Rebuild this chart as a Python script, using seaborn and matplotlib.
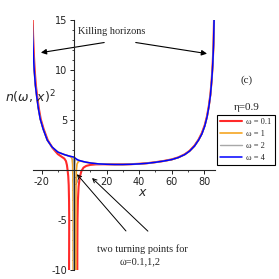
import matplotlib.pyplot as plt
import seaborn as sns

# shared left flank (x < -10) and right tail (x >= 20)
x_left = [-25.9, -25.5, -25.0, -24.5, -23.8, -23.0, -22.0, -20.8, -19.0, -16.5, -13.5]
y_left = [16.0, 13.5, 11.5, 10.0, 8.5, 7.4, 6.2, 5.1, 4.1, 3.0, 2.3]
x_tail = [20, 25, 30, 35, 40, 45, 50, 55, 60, 64, 68, 71, 74, 76.5, 78.5, 80.3,
          81.7, 82.8, 83.8, 84.6, 85.2, 85.7, 86.1]
y_tail = [0.58, 0.56, 0.56, 0.58, 0.62, 0.68, 0.78, 0.9, 1.05, 1.25, 1.55, 1.9,
          2.4, 3.0, 3.6, 4.4, 5.3, 6.3, 7.5, 9.0, 10.5, 12.5, 15.5]

# omega = 0.1 (red)
x_w01 = [-25.6, -25.2, -24.7, -24.2, -23.5, -22.7, -21.7, -20.5, -18.7, -16.2,
         -13.2, -10.0, -7.8, -6.0, -5.0, -4.4, -4.0, -3.6, -3.3, -3.1, -3.0,
         -3.05, -3.15, 1.95, 2.0, 2.1, 2.35, 2.8, 3.5, 4.5, 5.8, 7.5, 10.0,
         13.5, 18.0, 25, 30, 35, 40, 45, 50, 55, 60, 64, 68, 71, 74, 76.5,
         78.5, 80.3, 81.7, 82.8, 83.8, 84.6, 85.2, 85.7, 86.1]
y_w01 = [16.0, 13.5, 11.5, 10.0, 8.5, 7.4, 6.2, 5.1, 4.1, 3.0, 2.2, 1.6, 1.35,
         1.15, 0.9, 0.5, 0.0, -0.6, -1.5, -3.0, -5.0, -8.0, -12.0, -12.0, -8.0,
         -5.0, -3.0, -1.6, -0.7, -0.1, 0.25, 0.42, 0.52, 0.57, 0.58, 0.57, 0.57,
         0.59, 0.63, 0.69, 0.79, 0.91, 1.07, 1.27, 1.58, 1.93, 2.45, 3.05, 3.7,
         4.5, 5.4, 6.4, 7.6, 9.1, 10.7, 12.7, 15.7]

# omega = 1 (orange)
x_w1 = x_left + [-10.0, -6.0, -3.0, -1.8, -1.2, -0.9, -0.7, -0.6, -0.55, 1.05,
                 1.1, 1.2, 1.4, 1.8, 2.6, 4.0, 6.5, 10.5, 15.0] + x_tail
y_w1 = y_left + [1.8, 1.55, 1.4, 1.3, 1.1, 0.6, -0.8, -4.0, -12.0, -12.0, -4.0,
                 -1.2, 0.0, 0.6, 0.85, 0.9, 0.8, 0.7, 0.62] + y_tail

# omega = 2 (gray)
x_w2 = x_left + [-10.0, -6.0, -3.0, -1.0, -0.4, -0.15, -0.1, 0.25, 0.3, 0.6,
                 1.2, 2.5, 4.5, 7.0, 10.5, 15.0] + x_tail
y_w2 = y_left + [1.8, 1.55, 1.4, 1.33, 1.2, 0.2, -12.0, -12.0, 0.0, 0.9, 1.05,
                 0.98, 0.9, 0.8, 0.7, 0.62] + y_tail

# omega = 4 (blue)
x_w4 = x_left + [-10.0, -6.0, -3.0, -1.0, 0.0, 1.0, 2.5, 4.5, 7.0, 10.5, 15.0] + x_tail
y_w4 = y_left + [1.8, 1.55, 1.4, 1.33, 1.3, 1.15, 1.0, 0.9, 0.8, 0.7, 0.62] + y_tail

labels = ['ω = 0.1', 'ω = 1', 'ω = 2', 'ω = 4']

sns.set_style('ticks')
plt.rcParams['font.family'] = ['DejaVu Sans']
plt.rcParams['axes.unicode_minus'] = False
plt.rcParams['mathtext.fontset'] = 'dejavusans'

fig = plt.figure(figsize=(2.79, 2.79), dpi=100)
ax = fig.add_axes([0.118, 0.032, 0.652, 0.896])

curves = [(x_w01, y_w01, '#ff2a2a', 1.5),
          (x_w1, y_w1, '#f5a623', 1.2),
          (x_w2, y_w2, '#a8a8a8', 1.0),
          (x_w4, y_w4, '#0000ff', 1.1)]
for (xs, ys, col, lw), lab in zip(curves, labels):
    sns.lineplot(x=xs, y=ys, ax=ax, color=col, lw=lw, label=lab,
                 sort=False, estimator=None)

ax.set_xlim(-25.3, 86.5)
ax.set_ylim(-10, 15)
ax.spines['left'].set_position(('data', 0))
ax.spines['bottom'].set_position(('data', 0))
ax.spines['top'].set_visible(False)
ax.spines['right'].set_visible(False)
for s in ['left', 'bottom']:
    ax.spines[s].set_linewidth(0.8)
    ax.spines[s].set_zorder(3)

ax.set_xticks([-20, 0, 20, 40, 60, 80])
ax.set_xticks([-10, 10, 30, 50, 70], minor=True)
ax.set_yticks([-10, -5, 5, 10, 15])
ax.set_yticks([v for v in range(-10, 16) if v % 5 != 0], minor=True)
ax.tick_params(which='major', labelsize=7, length=3, width=0.7, pad=2, colors='#222222')
ax.tick_params(which='minor', length=1.5, width=0.6)

fig.text(30 / 279, 1 - 97 / 279, r'$n\left(\omega,\,x\right)^2$', fontsize=9,
         ha='center', va='center')
ax.text(42, -2.2, 'x', fontsize=9, style='italic', ha='center', va='center')

serif = 'Liberation Serif'
ax.annotate('', xy=(-22.1, 11.7), xytext=(20.2, 12.8),
            arrowprops=dict(arrowstyle='-|>', color='black', lw=0.8, mutation_scale=8))
ax.annotate('', xy=(83.4, 11.6), xytext=(36.2, 12.8),
            arrowprops=dict(arrowstyle='-|>', color='black', lw=0.8, mutation_scale=8))
ax.text(23, 13.9, 'Killing horizons', family=serif, fontsize=7.5, ha='center', va='center')

ax.annotate('', xy=(0.6, -0.2), xytext=(33, -6.3),
            arrowprops=dict(arrowstyle='->', color='black', lw=0.7, mutation_scale=7))
ax.annotate('', xy=(9.8, -0.6), xytext=(46.6, -6.3),
            arrowprops=dict(arrowstyle='->', color='black', lw=0.7, mutation_scale=7))
ax.text(42.3, -7.9, 'two turning points for', family=serif, fontsize=7.5,
        ha='center', va='center')
ax.text(40.5, -9.2, 'ω=0.1,1,2', family=serif, fontsize=7.5, ha='center', va='center')

fig.text(247 / 279, 1 - 80 / 279, '(c)', family=serif, fontsize=8, ha='center', va='center')
fig.text(247 / 279, 1 - 107 / 279, 'η=0.9', family=serif, fontsize=8, ha='center', va='center')

leg = ax.legend(loc='upper left', bbox_to_anchor=(217 / 279, 1 - 115 / 279),
                bbox_transform=fig.transFigure, prop={'family': serif, 'size': 6},
                frameon=True, fancybox=False, edgecolor='black', framealpha=1,
                handlelength=2.6, handletextpad=0.5, labelspacing=0.45,
                borderpad=0.4, borderaxespad=0)
leg.get_frame().set_linewidth(0.8)

fig.savefig('out.png', dpi=100)
